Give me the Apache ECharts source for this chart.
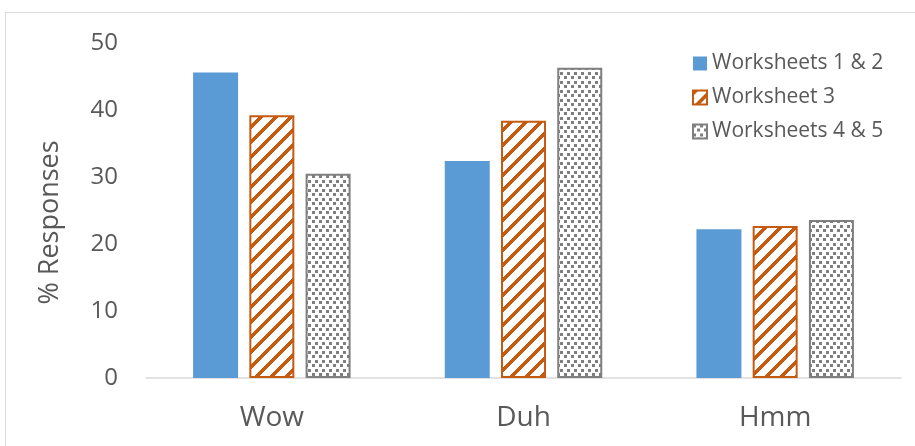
<!DOCTYPE html>
<html>
<head>
<meta charset="utf-8">
<script src="https://cdn.jsdelivr.net/npm/echarts@6/dist/echarts.min.js"></script>
<style>
  html, body { margin: 0; padding: 0; background: #fff; }
  #echar { width: 915px; height: 446px; }
</style>
</head>
<body>
<div id="echar"></div>
<script>
var categories = ["Wow", "Duh", "Hmm"];
var seriesNames = ["Worksheets 1 & 2", "Worksheet 3", "Worksheets 4 & 5"];
var ws12 = [45.6, 32.4, 22.2];
var ws3 = [39.2, 38.4, 22.7];
var ws45 = [30.5, 46.3, 23.6];

var blue = "#5B9BD5";
var orange = "#C55A11";
var gray = "#7F7F7F";

// diagonal hatch like excel "wide upward diagonal"
function hatchTile() {
  var c = document.createElement("canvas");
  var n = 15;
  c.width = n; c.height = n;
  var ctx = c.getContext("2d");
  ctx.fillStyle = "#fff";
  ctx.fillRect(0, 0, n, n);
  ctx.fillStyle = orange;
  for (var x = 0; x < n; x++) {
    for (var y = 0; y < n; y++) {
      if ((x + y) % n < 5) ctx.fillRect(x, y, 1, 1);
    }
  }
  return c;
}

// small staggered squares
function dotTile() {
  var c = document.createElement("canvas");
  c.width = 7; c.height = 9;
  var ctx = c.getContext("2d");
  ctx.fillStyle = "#fff";
  ctx.fillRect(0, 0, 7, 9);
  ctx.fillStyle = gray;
  ctx.fillRect(0, 0, 3, 3);
  ctx.fillRect(4, 4, 3, 3);
  return c;
}

var mychart = echarts.init(document.getElementById("echar"));
var font = "'Open Sans', sans-serif";

var option = {
  animation: false,
  textStyle: { fontFamily: font },
  graphic: [{
    type: "rect",
    shape: { x: 5.5, y: 12.5, width: 1000, height: 1000 },
    style: { fill: "none", stroke: "#d9d9d9", lineWidth: 1 }
  }],
  legend: {
    orient: "vertical",
    left: 687,
    top: 48,
    itemWidth: 14,
    itemHeight: 14,
    itemGap: 13,
    icon: "rect",
    textStyle: { fontSize: 21, color: "#595959", fontFamily: font },
    data: seriesNames
  },
  grid: {
    left: 146,
    right: 14,
    top: 43,
    bottom: 68
  },
  xAxis: {
    type: "category",
    data: categories,
    axisLine: { lineStyle: { color: "#d9d9d9", width: 1.5 } },
    axisTick: { show: false },
    axisLabel: { fontSize: 28, color: "#595959", margin: 26, fontFamily: font }
  },
  yAxis: {
    type: "value",
    min: 0,
    max: 50,
    interval: 10,
    name: "% Responses",
    nameLocation: "middle",
    nameGap: 82,
    nameTextStyle: { fontSize: 27, color: "#595959", fontFamily: font, padding: [0, 24, 0, 0] },
    axisLine: { show: false },
    axisTick: { show: false },
    splitLine: { show: false },
    axisLabel: { fontSize: 24, color: "#595959", margin: 28, fontFamily: font }
  },
  series: [
    {
      name: seriesNames[0],
      type: "bar",
      data: ws12,
      barWidth: 45,
      barGap: "25%",
      itemStyle: { color: blue }
    },
    {
      name: seriesNames[1],
      type: "bar",
      data: ws3,
      barWidth: 45,
      itemStyle: {
        color: { image: hatchTile(), repeat: "repeat" },
        borderColor: orange,
        borderWidth: 2
      }
    },
    {
      name: seriesNames[2],
      type: "bar",
      data: ws45,
      barWidth: 45,
      itemStyle: {
        color: { image: dotTile(), repeat: "repeat" },
        borderColor: gray,
        borderWidth: 2
      }
    }
  ]
};
mychart.setOption(option);
</script>
</body>
</html>
